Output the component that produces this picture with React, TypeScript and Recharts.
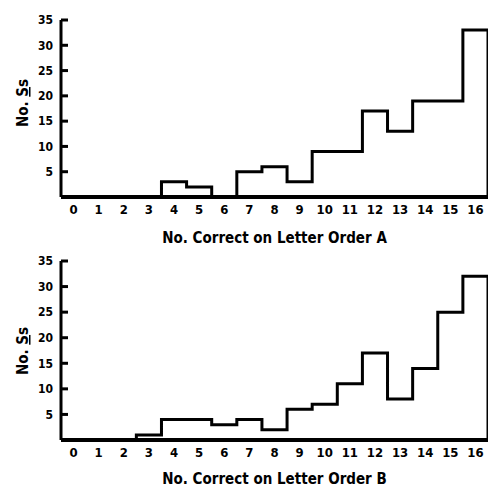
import React from 'react';
import { LineChart, Line, XAxis, YAxis } from 'recharts';

// score bins (number correct, 0-16)
const scores = [0, 1, 2, 3, 4, 5, 6, 7, 8, 9, 10, 11, 12, 13, 14, 15, 16];

// number of subjects per score
const countsA = [0, 0, 0, 0, 3, 2, 0, 5, 6, 3, 9, 9, 17, 13, 19, 19, 33];
const countsB = [0, 0, 0, 1, 4, 4, 3, 4, 2, 6, 7, 11, 17, 8, 14, 25, 32];

const yTicks = [5, 10, 15, 20, 25, 30, 35];

const FONT = '"DejaVu Sans Condensed", "DejaVu Sans", sans-serif';

// histogram outline: a point at each bin's left edge, then close down at the right edge
const toSteps = (counts: number[]) => {
  const pts = scores.map((s, i) => ({ x: s - 0.5, n: counts[i] }));
  const end = scores[scores.length - 1] + 0.5;
  pts.push({ x: end, n: counts[counts.length - 1] });
  pts.push({ x: end, n: 0 });
  return pts;
};

// y tick: label left of the axis, short tick mark pointing into the plot
const YTick = (props: any) => {
  const { x, y, payload } = props;
  return (
    <g>
      <text x={x} y={y} dy="0.36em" textAnchor="end" fontSize={12} fontWeight="bold" fill="#000">
        {payload.value}
      </text>
      <line x1={x + 8} x2={x + 15} y1={y} y2={y} stroke="#000" strokeWidth={3} />
    </g>
  );
};

const SsLabel = ({ cy }: { cy: number }) => (
  <text
    transform={`translate(28, ${cy}) rotate(-90)`}
    textAnchor="middle"
    fontSize={15}
    fontWeight="bold"
    fill="#000"
  >
    No. <tspan style={{ textDecoration: 'underline' }}>S</tspan>s
  </text>
);

type PanelProps = {
  counts: number[];
  title: string;
  height: number;
  top: number;
  axisHeight: number;
  titleOffset: number;
  labelY: number;
};

const Panel = ({ counts, title, height, top, axisHeight, titleOffset, labelY }: PanelProps) => (
  <LineChart
    width={489}
    height={height}
    data={toSteps(counts)}
    margin={{ top, right: 1, bottom: 0, left: 0 }}
  >
    <XAxis
      type="number"
      dataKey="x"
      domain={[-0.5, 16.5]}
      ticks={scores}
      interval={0}
      allowDataOverflow
      height={axisHeight}
      tickLine={false}
      tickSize={0}
      tickMargin={8}
      axisLine={{ stroke: '#000', strokeWidth: 4 }}
      tick={{ fill: '#000', fontSize: 13, fontWeight: 'bold' }}
      label={{
        value: title,
        position: 'insideBottom',
        offset: titleOffset,
        fill: '#000',
        fontSize: 15,
        fontWeight: 'bold',
      }}
    />
    <YAxis
      type="number"
      domain={[0, 35]}
      ticks={yTicks}
      interval={0}
      width={61}
      tickLine={false}
      tickSize={0}
      tickMargin={8}
      axisLine={{ stroke: '#000', strokeWidth: 3 }}
      tick={<YTick />}
      label={{ content: () => <SsLabel cy={labelY} /> }}
    />
    <Line
      type="stepAfter"
      dataKey="n"
      stroke="#000"
      strokeWidth={3}
      strokeLinejoin="miter"
      dot={false}
      activeDot={false}
      isAnimationActive={false}
    />
  </LineChart>
);

export default function App() {
  return (
    <div
      style={{
        position: 'absolute',
        left: 0,
        top: 0,
        width: 489,
        height: 488,
        background: '#fff',
        fontFamily: FONT,
      }}
    >
      <Panel
        counts={countsA}
        title="No. Correct on Letter Order A"
        height={250}
        top={20}
        axisHeight={53}
        titleOffset={7}
        labelY={103}
      />
      <Panel
        counts={countsB}
        title="No. Correct on Letter Order B"
        height={238}
        top={11}
        axisHeight={48}
        titleOffset={4}
        labelY={101}
      />
    </div>
  );
}
